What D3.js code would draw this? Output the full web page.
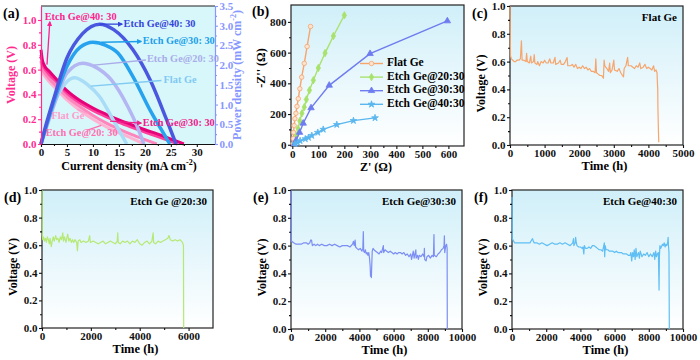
<!DOCTYPE html>
<html>
<head>
<meta charset="utf-8">
<script src="https://cdn.jsdelivr.net/npm/d3@7"></script>
<style>
  body { margin: 0; background: #fff; }
  svg { display: block; font-family: 'Liberation Serif', 'Times New Roman', serif; font-weight: bold; }
</style>
</head>
<body>
<svg id="chart" width="700" height="360"></svg>
<script>
'use strict';

// ---- (a) J-V / power curves: [current density mA cm-2, value] ----
var voltageFlat = [[0,0.62],[0.25,0.58],[0.7,0.55],[1.5,0.505],[3,0.44],[5,0.355],[7.5,0.27],[10,0.2],[12.5,0.14],[15,0.09],[17.5,0.045],[19.8,0]];
var voltage20 = [[0,0.67],[0.25,0.61],[0.7,0.575],[1.5,0.53],[3,0.465],[5,0.38],[7.5,0.3],[10,0.23],[12.5,0.17],[15,0.12],[17.5,0.075],[20,0.035],[22.3,0]];
var voltage30 = [[0,0.72],[0.25,0.65],[0.7,0.61],[1.5,0.565],[3,0.5],[5,0.41],[7.5,0.33],[10,0.27],[12.5,0.22],[15,0.175],[17.5,0.135],[20,0.097],[22.5,0.06],[25,0.022],[26.3,0]];
var voltage40 = [[0,0.76],[0.25,0.68],[0.7,0.63],[1.5,0.59],[3,0.52],[5,0.43],[7.5,0.35],[10,0.29],[12.5,0.24],[15,0.195],[17.5,0.155],[20,0.115],[22.5,0.08],[25,0.04],[27.5,0]];

var powerFlat = [[0,0],[3.1,1.2],[6.5,1.68],[9,1.5],[11.3,1.2],[13.9,0.61],[16.5,0]];
var power20 = [[0,0],[2.4,0.95],[5,1.8],[8,2.05],[10.5,1.95],[13.5,1.63],[16.7,0.95],[18.5,0.45],[19.8,0]];
var power30 = [[0,0],[2.4,1.04],[5,1.97],[7.5,2.45],[10,2.58],[12.5,2.5],[14.8,2.31],[17.7,1.71],[21,0.86],[23,0.4],[24.8,0]];
var power40 = [[0,0],[1,0.5],[2.4,1.12],[5,2.18],[8,2.8],[11.3,3.04],[14,2.9],[17.7,2.39],[21,1.63],[24.2,0.61],[26,0]];

var currentTicks = [0,5,10,15,20,25,30];
var voltageTicks = [0,0.2,0.4,0.6,0.8,1.0];
var powerTicks = [0,0.5,1,1.5,2,2.5,3,3.5];

// ---- (b) Nyquist: [Z', -Z''] ----
var seriesNames = ['Flat Ge', 'Etch Ge@20:30', 'Etch Ge@30:30', 'Etch Ge@40:30'];
var nyqFlat = [[2,5],[4,40],[5,80],[7,125],[10,170],[14,205],[18,250],[23,300],[29,365],[36,440],[46,530],[57,640],[70,770]];
var nyq20 = [[12,15],[16,60],[22,105],[29,155],[37,205],[46,245],[54,295],[66,355],[81,420],[100,500],[126,597],[158,708],[200,843]];
var nyq30 = [[8,5],[15,30],[28,80],[42,140],[72,240],[142,387],[299,593],[596,806]];
var nyq40 = [[10,5],[20,15],[30,26],[50,38],[62,47],[75,60],[98,80],[119,100],[171,131],[235,157],[318,175]];
var zReTicks = [0,100,200,300,400,500,600];
var zImTicks = [0,200,400,600,800];

// ---- (c)-(f) stability: [time h, voltage V] ----
var stabFlat = [[0,1.0],[15,0.64],[40,0.62],[80,0.61],[120,0.6],[160,0.6],[200,0.61],[260,0.61],[300,0.62],[330,0.75],[350,0.61],[400,0.61],[460,0.6],[480,0.66],[500,0.6],[560,0.59],[600,0.64],[620,0.59],[680,0.6],[700,0.65],[720,0.59],[780,0.58],[800,0.6],[850,0.57],[900,0.6],[960,0.59],[1000,0.61],[1050,0.59],[1100,0.59],[1150,0.62],[1180,0.59],[1250,0.59],[1300,0.63],[1320,0.58],[1400,0.59],[1450,0.61],[1480,0.58],[1550,0.58],[1600,0.6],[1650,0.63],[1670,0.57],[1750,0.57],[1800,0.58],[1850,0.56],[1900,0.58],[1950,0.55],[2000,0.56],[2050,0.55],[2100,0.57],[2150,0.55],[2200,0.56],[2250,0.54],[2300,0.55],[2350,0.53],[2400,0.53],[2460,0.52],[2480,0.62],[2500,0.52],[2550,0.51],[2600,0.5],[2650,0.5],[2700,0.48],[2720,0.61],[2740,0.57],[2800,0.55],[2850,0.53],[2880,0.59],[2900,0.52],[2950,0.54],[3000,0.61],[3020,0.54],[3100,0.53],[3150,0.55],[3200,0.52],[3250,0.5],[3280,0.49],[3300,0.55],[3350,0.57],[3400,0.63],[3420,0.57],[3500,0.57],[3550,0.56],[3600,0.55],[3650,0.57],[3700,0.56],[3750,0.59],[3780,0.55],[3850,0.56],[3900,0.58],[3950,0.55],[4000,0.56],[4050,0.55],[4100,0.54],[4150,0.57],[4180,0.53],[4220,0.54],[4250,0.52],[4260,0.45],[4270,0.4],[4275,0.27],[4290,0.1],[4300,0.02]];
var stab20 = [[0,1.0],[10,0.68],[30,0.64],[60,0.66],[100,0.63],[140,0.65],[180,0.62],[220,0.66],[260,0.64],[300,0.61],[330,0.65],[380,0.59],[420,0.63],[460,0.66],[500,0.63],[560,0.67],[600,0.64],[650,0.65],[700,0.62],[750,0.66],[800,0.64],[850,0.69],[880,0.63],[920,0.66],[980,0.62],[1050,0.68],[1100,0.63],[1150,0.65],[1200,0.62],[1250,0.64],[1300,0.62],[1350,0.64],[1420,0.62],[1450,0.56],[1480,0.63],[1550,0.64],[1600,0.62],[1700,0.63],[1800,0.62],[1900,0.63],[1950,0.67],[1980,0.62],[2100,0.63],[2200,0.62],[2300,0.61],[2400,0.62],[2500,0.63],[2600,0.61],[2700,0.62],[2800,0.63],[2900,0.62],[3000,0.61],[3080,0.63],[3100,0.69],[3120,0.62],[3200,0.61],[3300,0.63],[3400,0.62],[3500,0.63],[3600,0.61],[3700,0.63],[3800,0.62],[3900,0.64],[4000,0.61],[4100,0.6],[4200,0.62],[4300,0.63],[4400,0.61],[4500,0.63],[4550,0.69],[4570,0.62],[4650,0.61],[4750,0.63],[4850,0.62],[4950,0.63],[5050,0.64],[5150,0.65],[5200,0.67],[5250,0.64],[5350,0.63],[5450,0.64],[5550,0.63],[5650,0.64],[5750,0.62],[5790,0.6],[5800,0]];
var stab30 = [[0,1.0],[15,0.63],[60,0.63],[150,0.62],[300,0.61],[450,0.61],[600,0.61],[750,0.62],[900,0.62],[1000,0.61],[1100,0.62],[1150,0.64],[1200,0.64],[1250,0.6],[1350,0.61],[1450,0.6],[1550,0.61],[1650,0.6],[1800,0.61],[1950,0.6],[2100,0.6],[2250,0.61],[2400,0.6],[2550,0.61],[2700,0.6],[2850,0.59],[3000,0.6],[3150,0.6],[3300,0.6],[3450,0.59],[3600,0.61],[3650,0.63],[3700,0.6],[3750,0.64],[3780,0.59],[3850,0.58],[3950,0.57],[4050,0.58],[4150,0.56],[4200,0.58],[4230,0.7],[4250,0.56],[4300,0.55],[4350,0.57],[4400,0.54],[4450,0.55],[4500,0.53],[4550,0.55],[4600,0.5],[4630,0.45],[4650,0.38],[4680,0.4],[4700,0.37],[4720,0.45],[4750,0.56],[4800,0.58],[4850,0.57],[4950,0.56],[5050,0.55],[5150,0.54],[5250,0.56],[5300,0.55],[5400,0.6],[5420,0.55],[5500,0.57],[5600,0.56],[5700,0.55],[5800,0.56],[5900,0.55],[6000,0.54],[6100,0.55],[6200,0.54],[6300,0.55],[6400,0.55],[6500,0.54],[6600,0.55],[6700,0.53],[6800,0.54],[6900,0.52],[7000,0.54],[7050,0.5],[7100,0.53],[7150,0.56],[7200,0.51],[7250,0.54],[7300,0.57],[7320,0.51],[7400,0.53],[7450,0.5],[7500,0.53],[7600,0.52],[7700,0.54],[7780,0.52],[7800,0.58],[7820,0.5],[7900,0.49],[7950,0.52],[8050,0.53],[8150,0.51],[8250,0.53],[8330,0.52],[8360,0.68],[8380,0.53],[8500,0.52],[8600,0.54],[8700,0.55],[8800,0.57],[8900,0.58],[8950,0.6],[8970,0.67],[8990,0.55],[9050,0.6],[9100,0.61],[9130,0.58],[9140,0]];
var stab40 = [[0,0.95],[15,0.65],[60,0.64],[150,0.62],[300,0.62],[450,0.62],[600,0.62],[750,0.62],[900,0.62],[1050,0.62],[1150,0.64],[1200,0.65],[1250,0.63],[1300,0.62],[1450,0.62],[1600,0.61],[1750,0.62],[1900,0.61],[2050,0.6],[2200,0.61],[2350,0.62],[2500,0.61],[2650,0.61],[2800,0.62],[2950,0.61],[3100,0.62],[3250,0.61],[3400,0.6],[3550,0.62],[3600,0.65],[3620,0.6],[3700,0.62],[3720,0.66],[3750,0.63],[3800,0.6],[3900,0.59],[4000,0.59],[4100,0.58],[4150,0.59],[4200,0.54],[4230,0.6],[4300,0.58],[4400,0.58],[4500,0.59],[4600,0.58],[4700,0.6],[4800,0.6],[4900,0.59],[5000,0.58],[5100,0.57],[5200,0.57],[5300,0.56],[5400,0.62],[5420,0.52],[5450,0.6],[5500,0.57],[5600,0.57],[5700,0.56],[5800,0.56],[5900,0.56],[6000,0.55],[6100,0.56],[6200,0.55],[6300,0.55],[6400,0.55],[6500,0.54],[6600,0.54],[6700,0.54],[6800,0.53],[6900,0.53],[6950,0.55],[7000,0.49],[7050,0.55],[7100,0.52],[7150,0.57],[7200,0.5],[7250,0.58],[7300,0.52],[7400,0.55],[7450,0.51],[7500,0.56],[7600,0.52],[7700,0.54],[7800,0.53],[7900,0.55],[8000,0.52],[8100,0.54],[8200,0.52],[8300,0.55],[8350,0.5],[8400,0.56],[8450,0.52],[8500,0.54],[8560,0.55],[8600,0.28],[8620,0.52],[8650,0.6],[8700,0.58],[8800,0.61],[8850,0.6],[8900,0.62],[8950,0.59],[9000,0.61],[9050,0.6],[9100,0.62],[9130,0.66],[9150,0.6],[9180,0.55],[9200,0]];
var voltTicks = [0,0.2,0.4,0.6,0.8,1.0];
var timeTicks5k = [0,1000,2000,3000,4000,5000];
var timeTicks7k = [0,2000,4000,6000];
var timeTicks10k = [0,2000,4000,6000,8000,10000];

// ---------------------------------------------------------------
var FONT = "'Liberation Serif', 'Times New Roman', serif";
var svg = d3.select('#chart');
var defs = svg.append('defs');

svg.append('rect').attr('width', 700).attr('height', 360).attr('fill', '#fff');

var grad = defs.append('linearGradient').attr('id', 'bgGrad')
  .attr('x1', 0).attr('y1', 0).attr('x2', 0).attr('y2', 1);
grad.append('stop').attr('offset', '0%').attr('stop-color', '#d0eff9');
grad.append('stop').attr('offset', '100%').attr('stop-color', '#ffffff');

function arrowMarker(id, color)
{
  defs.append('marker')
    .attr('id', id)
    .attr('viewBox', '0 0 10 10')
    .attr('refX', 8).attr('refY', 5)
    .attr('markerWidth', 4).attr('markerHeight', 4)
    .attr('orient', 'auto')
    .append('path').attr('d', 'M0,0L10,5L0,10z').attr('fill', color);
  return 'url(#' + id + ')';
}

function styleAxis(sel, color, fs)
{
  sel.attr('font-family', null).attr('font-size', null);
  sel.selectAll('text')
    .attr('fill', color)
    .style('font-family', FONT)
    .style('font-size', fs + 'px')
    .style('font-weight', 'bold');
  sel.selectAll('line').attr('stroke', color).attr('stroke-width', 1.1);
  sel.select('.domain').attr('stroke', color).attr('stroke-width', 1.2);
  return sel;
}

function minorValues(major)
{
  var out = [];
  for (var i = 0; i < major.length - 1; i++) out.push((major[i] + major[i + 1]) / 2);
  return out;
}

function drawAxis(g, axisFn, scale, ticks, fmt, transform, color, fs, showDomain)
{
  var major = g.append('g').attr('transform', transform)
    .call(axisFn(scale).tickValues(ticks).tickFormat(fmt).tickSize(3).tickSizeOuter(0).tickPadding(1.5));
  styleAxis(major, color, fs);
  if (!showDomain) major.select('.domain').remove();
  var minor = g.append('g').attr('transform', transform)
    .call(axisFn(scale).tickValues(minorValues(ticks)).tickFormat('').tickSize(2).tickSizeOuter(0));
  styleAxis(minor, color, fs);
  minor.select('.domain').remove();
}

function label(g, text, x, y, opts)
{
  opts = opts || {};
  var t = g.append('text')
    .attr('x', x).attr('y', y)
    .attr('text-anchor', opts.anchor || 'start')
    .attr('dominant-baseline', 'middle')
    .attr('fill', opts.color || '#000')
    .style('font-family', FONT)
    .style('font-weight', 'bold')
    .style('font-size', (opts.size || 11) + 'px');
  if (text) t.text(text);
  if (opts.rotate) t.attr('transform', 'rotate(-90,' + x + ',' + y + ')');
  return t;
}

function superLabel(t, before, sup, after)
{
  t.append('tspan').text(before);
  t.append('tspan').attr('dy', -4).style('font-size', '8px').text(sup);
  t.append('tspan').attr('dy', 4).text(after);
}

// =============================== (a) ===============================
(function()
{
  var g = svg.append('g');
  var x = d3.scaleLinear().domain([0, 33.5]).range([41, 215]);
  var yV = d3.scaleLinear().domain([0, 1.113]).range([144, 6]);
  var yP = d3.scaleLinear().domain([0, 3.5]).range([144, 6]);

  g.append('rect').attr('x', 41).attr('y', 6).attr('width', 174).attr('height', 138).attr('fill', '#d8f7fb');
  g.append('line').attr('x1', 41).attr('x2', 215).attr('y1', 6).attr('y2', 6).attr('stroke', '#222').attr('stroke-width', 1.2);

  var vLine = d3.line().x(function(d) { return x(d[0]); }).y(function(d) { return yV(d[1]); }).curve(d3.curveMonotoneX);
  var pLine = d3.line().x(function(d) { return x(d[0]); }).y(function(d) { return yP(d[1]); }).curve(d3.curveMonotoneX);

  var vSeries = [
    {data: voltageFlat, color: '#ffb3d3'},
    {data: voltage20, color: '#ff86bd'},
    {data: voltage30, color: '#ff3f9c'},
    {data: voltage40, color: '#e6037a'}
  ];
  var pSeries = [
    {data: powerFlat, color: '#a9dcf7'},
    {data: power20, color: '#b3b6f2'},
    {data: power30, color: '#26a2ee'},
    {data: power40, color: '#4a58e0'}
  ];

  g.selectAll('path.v').data(vSeries).enter().append('path')
    .attr('class', 'v')
    .attr('d', function(d) { return vLine(d.data); })
    .attr('fill', 'none')
    .attr('stroke', function(d) { return d.color; })
    .attr('stroke-width', 3);

  g.selectAll('path.p').data(pSeries).enter().append('path')
    .attr('class', 'p')
    .attr('d', function(d) { return pLine(d.data); })
    .attr('fill', 'none')
    .attr('stroke', function(d) { return d.color; })
    .attr('stroke-width', 3.5);

  // annotations
  var notes = [
    {text: 'Etch Ge@40: 30', color: '#ff1f8e', from: [1.15, yV(0.64)], to: [1.7, yV(0.985)], at: [0.7, yV(1.02)], marker: true},
    {text: 'Etch Ge@40: 30', color: '#3545dc', from: [11.3, yP(3.04)], to: [15.6, yP(3.04)], at: [15.9, yP(3.03)], marker: true},
    {text: 'Etch Ge@30: 30', color: '#1b9fea', from: [11.6, yP(2.58)], to: [19.3, yP(2.6)], at: [19.6, yP(2.6)], marker: true},
    {text: 'Etch Ge@20: 30', color: '#a9ace9', from: [10.2, yP(2.0)], to: [20.2, yP(2.13)], at: [20.4, yP(2.13)]},
    {text: 'Flat Ge', color: '#7fc9f2', from: [9.6, yP(1.47)], to: [23.2, yP(1.61)], at: [23.6, yP(1.6)]},
    {text: 'Etch Ge@30: 30', color: '#f0208a', from: [13.3, yV(0.185)], to: [19.3, yV(0.168)], at: [19.6, yV(0.163)], marker: true},
    {text: 'Flat Ge', color: '#ff9ccb', from: [9.0, yV(0.245)], to: [7.0, yV(0.28)], at: [2.0, yV(0.22)]},
    {text: 'Etch Ge@20: 30', color: '#ff6fb0', from: [8.8, yV(0.11)], to: [11.6, yV(0.15)], at: [0.9, yV(0.085)]}
  ];

  notes.forEach(function(n, i)
  {
    var ln = g.append('line')
      .attr('x1', x(n.from[0])).attr('y1', n.from[1])
      .attr('x2', x(n.to[0])).attr('y2', n.to[1])
      .attr('stroke', n.color).attr('stroke-width', 1.3);
    if (n.marker) ln.attr('marker-end', arrowMarker('arr' + i, n.color));
    label(g, n.text, x(n.at[0]), n.at[1], {color: n.color, size: 10.3});
  });

  drawAxis(g, d3.axisBottom, x, currentTicks, d3.format('d'), 'translate(0,144)', '#111', 11, true);
  drawAxis(g, d3.axisLeft, yV, voltageTicks, d3.format('.1f'), 'translate(41,0)', '#ff2b8f', 11, true);
  drawAxis(g, d3.axisRight, yP, powerTicks, d3.format('.1f'), 'translate(215,0)', '#8797ff', 11, true);

  superLabel(label(g, '', 129, 167, {anchor: 'middle', size: 12}), 'Current density (mA cm', '-2', ')');
  label(g, 'Voltage (V)', 12, 75, {anchor: 'middle', size: 12, color: '#ff2b8f', rotate: true});
  superLabel(label(g, '', 238, 75, {anchor: 'middle', size: 12, color: '#8797ff', rotate: true}), 'Power density (mW cm', '-2', ')');
  label(g, '(a)', 3, 15, {size: 14});
})();

// =============================== (b) ===============================
(function()
{
  var g = svg.append('g');
  var x = d3.scaleLinear().domain([-5, 660]).range([291, 464]);
  var y = d3.scaleLinear().domain([-8, 910]).range([146, 5]);

  g.append('rect').attr('x', 291).attr('y', 5).attr('width', 173).attr('height', 141)
    .attr('fill', 'url(#bgGrad)').attr('stroke', '#222').attr('stroke-width', 1.2);

  var series = [
    {name: seriesNames[0], data: nyqFlat, color: '#f6a56d', sym: d3.symbolCircle, size: 16},
    {name: seriesNames[1], data: nyq20, color: '#a8e26d', sym: d3.symbolDiamond, size: 16},
    {name: seriesNames[2], data: nyq30, color: '#6f7cf0', sym: d3.symbolTriangle, size: 18},
    {name: seriesNames[3], data: nyq40, color: '#5ab6ee', sym: d3.symbolStar, size: 14}
  ];
  var line = d3.line().x(function(d) { return x(d[0]); }).y(function(d) { return y(d[1]); });

  series.forEach(function(s)
  {
    g.append('path').attr('d', line(s.data)).attr('fill', 'none').attr('stroke', s.color).attr('stroke-width', 1.4);
    g.selectAll(null).data(s.data).enter().append('path')
      .attr('transform', function(d) { return 'translate(' + x(d[0]) + ',' + y(d[1]) + ')'; })
      .attr('d', d3.symbol().type(s.sym).size(s.size))
      .attr('fill', s.sym === d3.symbolCircle ? '#fde3cf' : s.color)
      .attr('stroke', s.color).attr('stroke-width', 0.8);
  });

  // legend
  series.forEach(function(s, i)
  {
    var ly = 63.5 + i * 13.6;
    g.append('line').attr('x1', 360).attr('x2', 383).attr('y1', ly).attr('y2', ly).attr('stroke', s.color).attr('stroke-width', 1.4);
    g.append('path').attr('transform', 'translate(371.5,' + ly + ')')
      .attr('d', d3.symbol().type(s.sym).size(s.size))
      .attr('fill', s.sym === d3.symbolCircle ? '#fde3cf' : s.color)
      .attr('stroke', s.color).attr('stroke-width', 0.8);
    label(g, s.name, 387, ly, {size: 11.5});
  });

  drawAxis(g, d3.axisBottom, x, zReTicks, d3.format('d'), 'translate(0,146)', '#111', 11, false);
  drawAxis(g, d3.axisLeft, y, zImTicks, d3.format('d'), 'translate(291,0)', '#111', 11, false);

  label(g, "Z' (\u03A9)", 376, 168, {anchor: 'middle', size: 12});
  label(g, "-Z'' (\u03A9)", 262, 68, {anchor: 'middle', size: 12, rotate: true});
  label(g, '(b)', 252, 13, {size: 14});
})();

// ========================== (c) - (f) ==========================
function stabilityPanel(opts)
{
  var g = svg.append('g');
  var x = d3.scaleLinear().domain([0, opts.xMax]).range([opts.left, opts.right]);
  var y = d3.scaleLinear().domain([0, 1]).range([opts.bottom, opts.top]);

  g.append('rect')
    .attr('x', opts.left).attr('y', opts.top)
    .attr('width', opts.right - opts.left).attr('height', opts.bottom - opts.top)
    .attr('fill', 'url(#bgGrad)').attr('stroke', '#222').attr('stroke-width', 1.2);

  var line = d3.line().x(function(d) { return x(d[0]); }).y(function(d) { return y(d[1]); });
  g.append('path').attr('d', line(opts.data))
    .attr('fill', 'none').attr('stroke', opts.color).attr('stroke-width', 1.2).attr('stroke-linejoin', 'round');

  drawAxis(g, d3.axisBottom, x, opts.xTicks, d3.format('d'), 'translate(0,' + opts.bottom + ')', '#111', 11, false);
  drawAxis(g, d3.axisLeft, y, voltTicks, d3.format('.1f'), 'translate(' + opts.left + ',0)', '#111', 11, false);

  label(g, 'Time (h)', (opts.left + opts.right) / 2 + 8, opts.bottom + 22, {anchor: 'middle', size: 12.5});
  label(g, 'Voltage (V)', opts.left - 28, (opts.top + opts.bottom) / 2 + 8, {anchor: 'middle', size: 12, rotate: true});
  label(g, opts.title, opts.right - 6, opts.top + 12, {anchor: 'end', size: 11});
  label(g, opts.tag, opts.left - 38, opts.top + 9, {size: 14});
}

stabilityPanel({data: stabFlat, color: '#f6a56d', xMax: 5000, xTicks: timeTicks5k,
  left: 510, right: 683, top: 6, bottom: 145, title: 'Flat  Ge', tag: '(c)'});
stabilityPanel({data: stab20, color: '#b6e974', xMax: 7000, xTicks: timeTicks7k,
  left: 42, right: 213, top: 190, bottom: 328, title: 'Etch  Ge @20:30', tag: '(d)'});
stabilityPanel({data: stab30, color: '#7c8ef4', xMax: 10000, xTicks: timeTicks10k,
  left: 291, right: 462, top: 190, bottom: 329, title: 'Etch Ge@30:30', tag: '(e)'});
stabilityPanel({data: stab40, color: '#5fbef4', xMax: 10000, xTicks: timeTicks10k,
  left: 512, right: 683, top: 190, bottom: 329, title: 'Etch Ge@40:30', tag: '(f)'});
</script>
</body>
</html>
